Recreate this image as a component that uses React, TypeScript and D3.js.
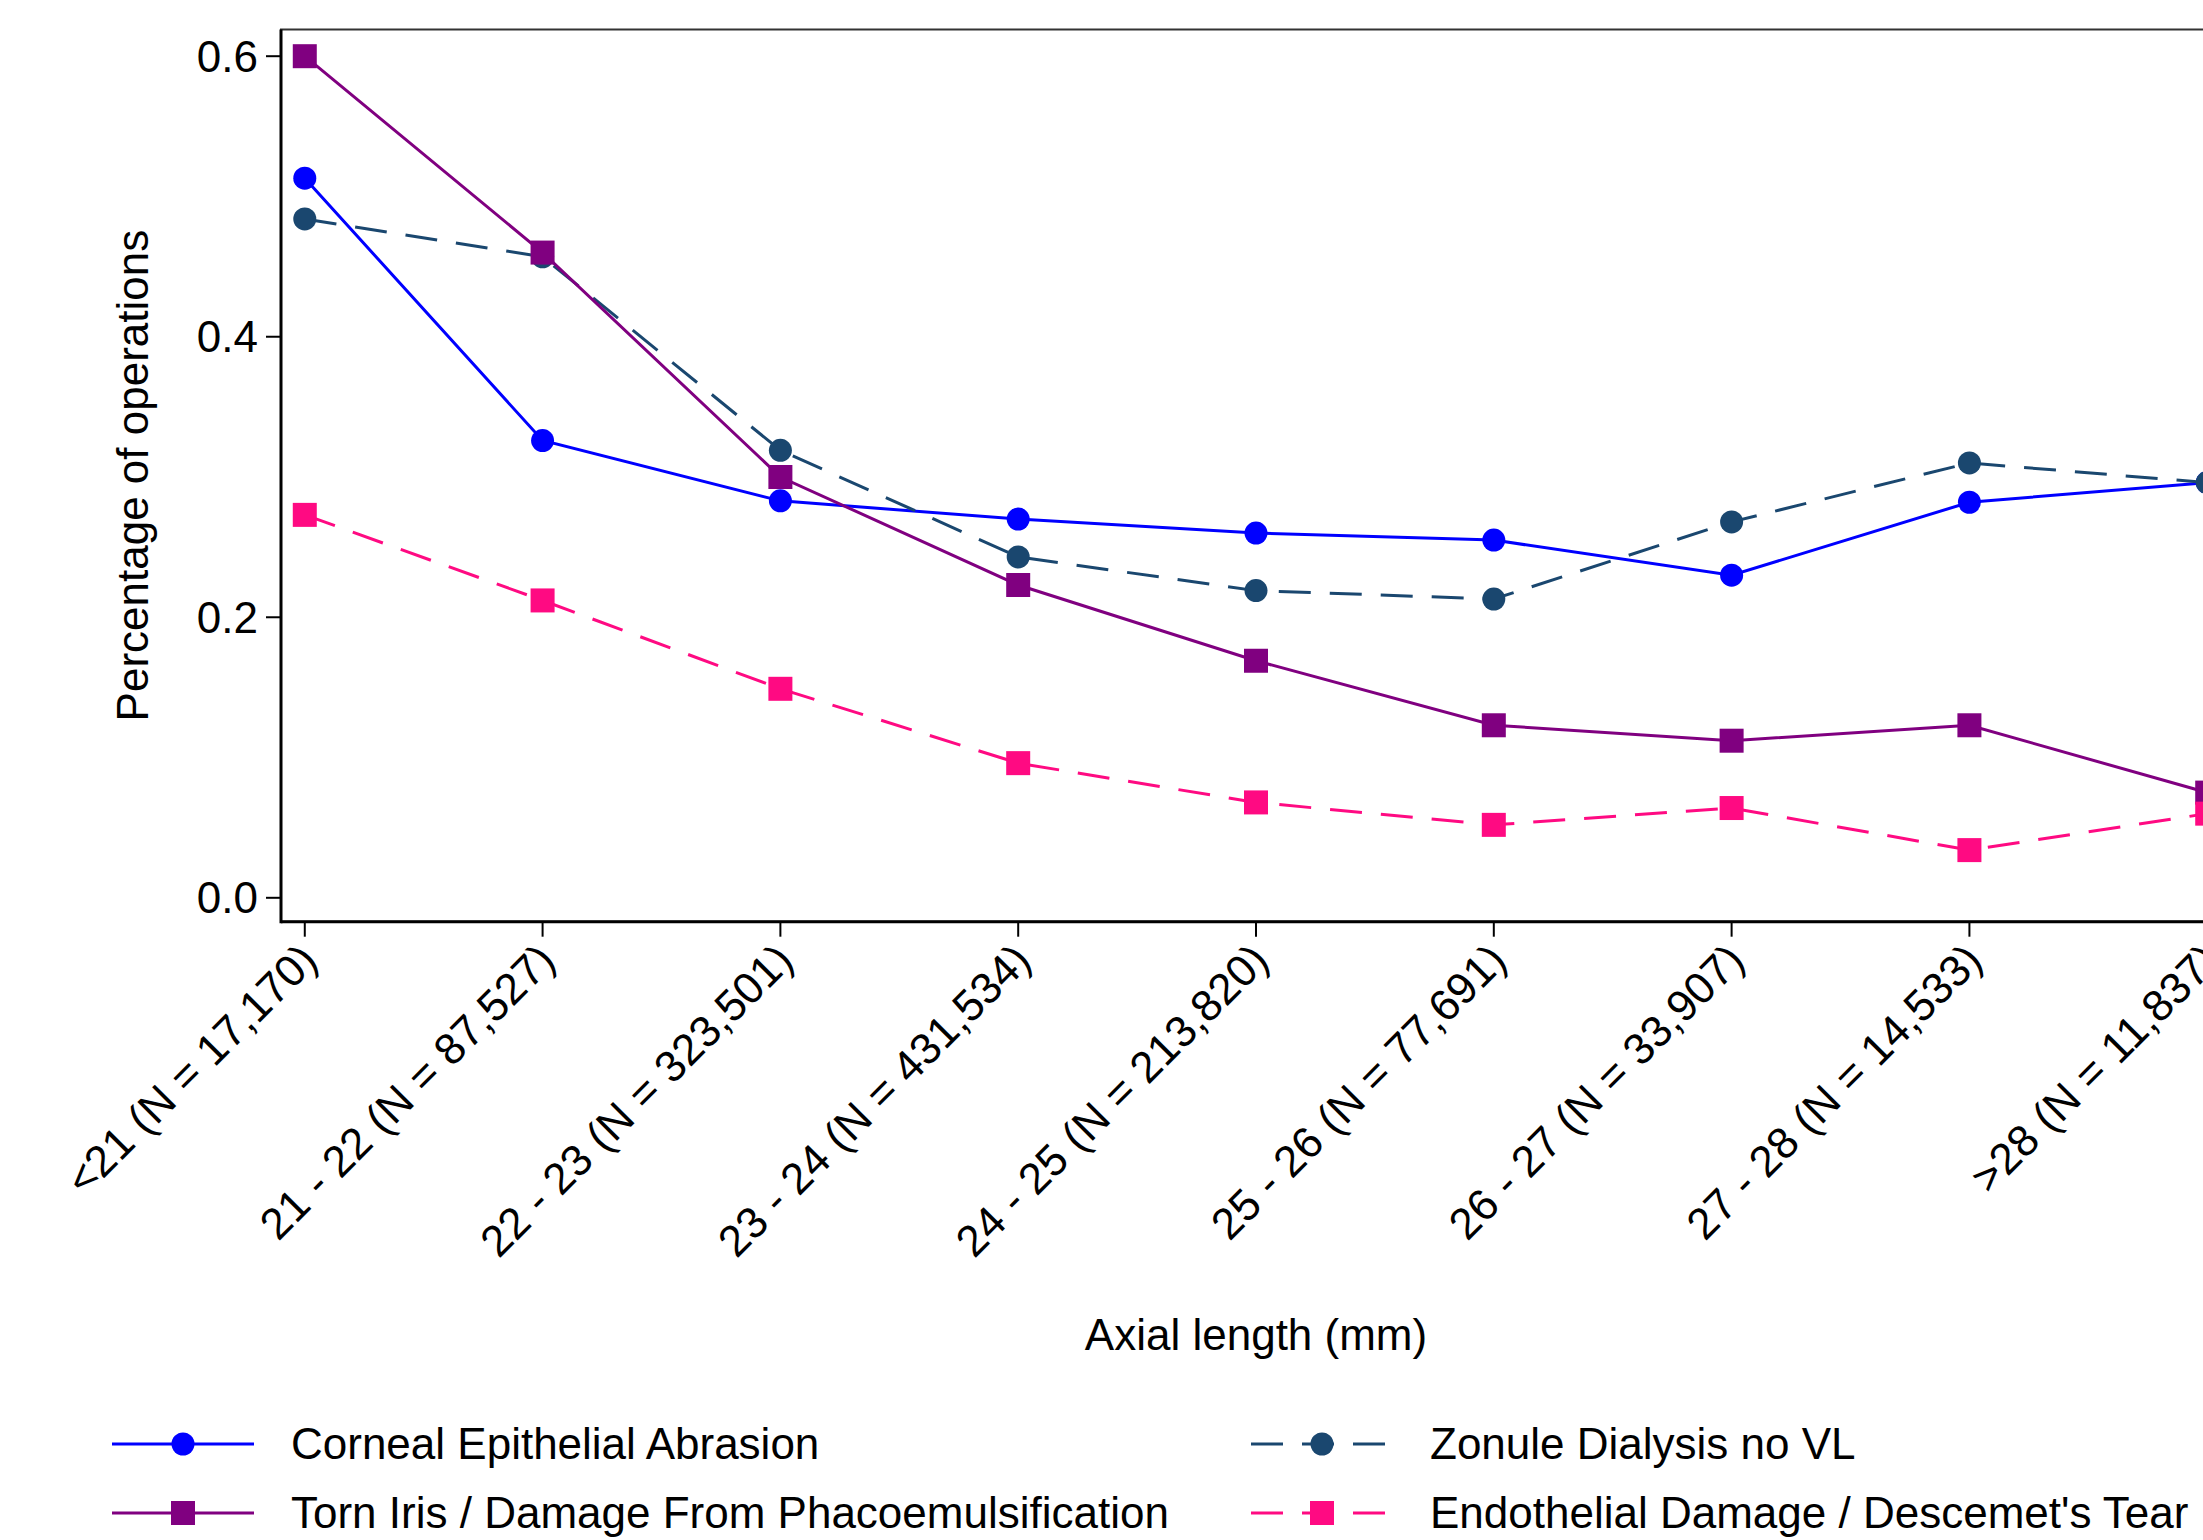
import * as d3 from 'd3'

const categories = [
  '<21 (N = 17,170)',
  '21 - 22 (N = 87,527)',
  '22 - 23 (N = 323,501)',
  '23 - 24 (N = 431,534)',
  '24 - 25 (N = 213,820)',
  '25 - 26 (N = 77,691)',
  '26 - 27 (N = 33,907)',
  '27 - 28 (N = 14,533)',
  '>28 (N = 11,837)',
]

const corneal = [0.513, 0.326, 0.283, 0.27, 0.26, 0.255, 0.23, 0.282, 0.296]
const zonule = [0.484, 0.457, 0.319, 0.243, 0.219, 0.213, 0.268, 0.31, 0.296]
const tornIris = [0.6, 0.46, 0.3, 0.223, 0.169, 0.123, 0.112, 0.123, 0.075]
const endothelial = [0.273, 0.212, 0.149, 0.096, 0.068, 0.052, 0.064, 0.034, 0.06]

const yTicks = [0, 0.2, 0.4, 0.6]

const series = [
  { name: 'Corneal Epithelial Abrasion', values: corneal, color: '#0000ff', dash: null, marker: 'circle' },
  { name: 'Zonule Dialysis no VL', values: zonule, color: '#1a476f', dash: '32,19', marker: 'circle' },
  { name: 'Torn Iris / Damage From Phacoemulsification', values: tornIris, color: '#800080', dash: null, marker: 'square' },
  { name: "Endothelial Damage / Descemet's Tear", values: endothelial, color: '#ff0a82', dash: '32,19', marker: 'square' },
]

// legend layout: [col, row]
const legendSlots = [
  [0, 0],
  [1, 0],
  [0, 1],
  [1, 1],
]

const W = 2203
const H = 1540
const plotLeft = 281
const plotRight = 2231
const plotTop = 29.5
const plotBottom = 921.7
const font = '"Liberation Sans", Arial, sans-serif'

const Marker = ({ type, x, y, color }) =>
  type === 'circle' ? (
    <circle cx={x} cy={y} r={11.5} fill={color} />
  ) : (
    <rect x={x - 12} y={y - 12} width={24} height={24} fill={color} />
  )

export default function App() {
  const x = d3.scalePoint().domain(categories).range([plotLeft, plotRight]).padding(0.1)
  const y = d3.scaleLinear().domain([0, 0.6]).range([897.8, 56.2])

  const line = d3
    .line<number>()
    .x((d, i) => x(categories[i]))
    .y((d) => y(d))

  const legendX = [112, 1251]
  const legendY = [1444, 1513]

  return (
    <div style={{ position: 'absolute', left: 0, top: 0, width: W, height: H, overflow: 'hidden', background: '#fff' }}>
      <svg width={W} height={H} style={{ display: 'block' }} fontFamily={font}>
        <rect x={0} y={0} width={W} height={H} fill='#fff' />

        {/* frame */}
        <rect
          x={plotLeft}
          y={plotTop}
          width={plotRight - plotLeft}
          height={plotBottom - plotTop}
          fill='none'
          stroke='#333'
          strokeWidth={2}
        />
        <line x1={plotLeft} x2={plotLeft} y1={plotTop} y2={plotBottom + 1.5} stroke='#000' strokeWidth={3} />
        <line x1={plotLeft} x2={plotRight} y1={plotBottom} y2={plotBottom} stroke='#000' strokeWidth={3} />

        {/* y axis */}
        {yTicks.map((t) => (
          <g key={t}>
            <line x1={plotLeft - 15} x2={plotLeft} y1={y(t)} y2={y(t)} stroke='#000' strokeWidth={2} />
            <text x={plotLeft - 23} y={y(t)} dy='0.35em' textAnchor='end' fontSize={44} fill='#000'>
              {t.toFixed(1)}
            </text>
          </g>
        ))}
        <text
          transform={`translate(133,${(plotTop + plotBottom) / 2}) rotate(-90)`}
          textAnchor='middle'
          dy='0.35em'
          fontSize={44}
          fill='#000'
        >
          Percentage of operations
        </text>

        {/* x axis */}
        {categories.map((c) => (
          <g key={c}>
            <line x1={x(c)} x2={x(c)} y1={plotBottom} y2={plotBottom + 15} stroke='#000' strokeWidth={2} />
            <text
              transform={`translate(${x(c) + 4},${plotBottom + 30}) rotate(-45)`}
              textAnchor='end'
              dy='0.35em'
              fontSize={44}
              fill='#000'
            >
              {c}
            </text>
          </g>
        ))}
        <text x={(plotLeft + plotRight) / 2} y={1335} dy='0.35em' textAnchor='middle' fontSize={44} fill='#000'>
          Axial length (mm)
        </text>

        {/* series */}
        {series.map((s) => (
          <g key={s.name}>
            <path
              d={line(s.values)}
              fill='none'
              stroke={s.color}
              strokeWidth={3}
              strokeDasharray={s.dash || undefined}
            />
            {s.values.map((v, i) => (
              <Marker key={i} type={s.marker} x={x(categories[i])} y={y(v)} color={s.color} />
            ))}
          </g>
        ))}

        {/* legend */}
        {series.map((s, k) => {
          const [col, row] = legendSlots[k]
          const lx = legendX[col]
          const ly = legendY[row]
          return (
            <g key={s.name}>
              <line
                x1={lx}
                x2={lx + 142}
                y1={ly}
                y2={ly}
                stroke={s.color}
                strokeWidth={3}
                strokeDasharray={s.dash || undefined}
              />
              <Marker type={s.marker} x={lx + 71} y={ly} color={s.color} />
              <text x={lx + 179} y={ly} dy='0.35em' fontSize={44} fill='#000'>
                {s.name}
              </text>
            </g>
          )
        })}
      </svg>
    </div>
  )
}
